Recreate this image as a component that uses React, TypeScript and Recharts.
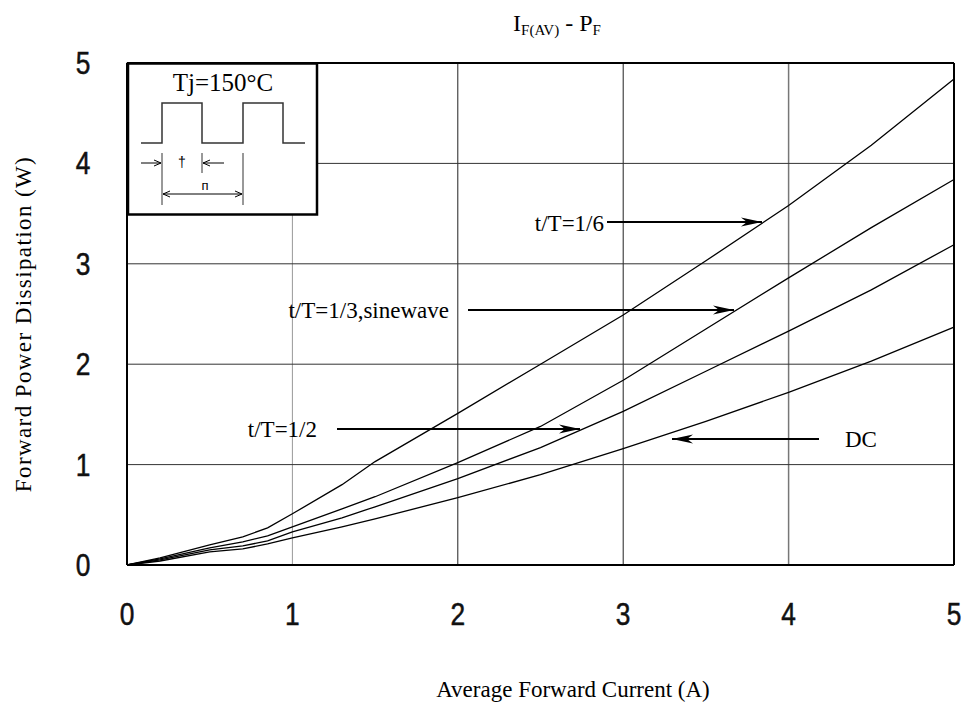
import React from "react";
import { LineChart, Line, XAxis, YAxis, ReferenceLine } from "recharts";

// Average forward current (A)
const currents = [0, 0.2, 0.5, 0.7, 0.85, 1.0, 1.3, 1.5, 2.0, 2.5, 3.0, 3.5, 4.0, 4.5, 5.0];
// Forward power dissipation (W) per waveform
const duty16 = [0, 0.07, 0.2, 0.28, 0.37, 0.51, 0.8, 1.03, 1.51, 2.0, 2.49, 3.03, 3.58, 4.18, 4.84];
const duty13 = [0, 0.06, 0.17, 0.23, 0.29, 0.38, 0.56, 0.68, 1.02, 1.38, 1.84, 2.35, 2.86, 3.36, 3.84];
const duty12 = [0, 0.05, 0.15, 0.19, 0.24, 0.33, 0.47, 0.58, 0.86, 1.17, 1.53, 1.93, 2.33, 2.74, 3.19];
const dcCurve = [0, 0.04, 0.13, 0.16, 0.21, 0.27, 0.38, 0.46, 0.67, 0.9, 1.16, 1.43, 1.72, 2.03, 2.37];

const xTicks = [0, 1, 2, 3, 4, 5];
const yTicks = [0, 1, 2, 3, 4, 5];

const data = currents.map((x, i) => ({
  x,
  d16: duty16[i],
  d13: duty13[i],
  d12: duty12[i],
  dc: dcCurve[i],
}));

const serif = "'Liberation Serif', 'Times New Roman', serif";
const sans = "'Liberation Sans', Arial, sans-serif";

const YTick = ({ x, y, payload }: any) => (
  <g transform={`translate(${x - 42},${y})`}>
    <text
      transform="scale(0.85,1)"
      textAnchor="middle"
      dy={11}
      fontSize={31}
      fontFamily={sans}
      fill="#111"
      stroke="#111"
      strokeWidth={0.5}
    >
      {payload.value}
    </text>
  </g>
);

const XTick = ({ x, y, payload }: any) => (
  <g transform={`translate(${x},${y})`}>
    <text
      transform="scale(0.85,1)"
      textAnchor="middle"
      dy={58}
      fontSize={31}
      fontFamily={sans}
      fill="#111"
      stroke="#111"
      strokeWidth={0.5}
    >
      {payload.value}
    </text>
  </g>
);

export default function App() {
  return (
    <div style={{ position: "absolute", left: 0, top: 0, width: 964, height: 711, background: "#fff" }}>
      <LineChart width={964} height={711} data={data} margin={{ top: 63, right: 10, bottom: 0, left: 0 }}>
        <XAxis
          dataKey="x"
          type="number"
          domain={[0, 5]}
          ticks={xTicks}
          height={146}
          tick={<XTick />}
          tickLine={false}
          tickSize={0}
          axisLine={{ stroke: "#000", strokeWidth: 2 }}
        />
        <YAxis
          type="number"
          domain={[0, 5]}
          ticks={yTicks}
          width={127}
          tick={<YTick />}
          tickLine={false}
          tickSize={0}
          axisLine={{ stroke: "#000", strokeWidth: 2 }}
        />
        {/* grid */}
        <ReferenceLine x={1} stroke="#999" strokeWidth={1} />
        <ReferenceLine x={2} stroke="#222" strokeWidth={1} />
        <ReferenceLine x={3} stroke="#222" strokeWidth={1} />
        <ReferenceLine x={4} stroke="#777" strokeWidth={1.5} />
        <ReferenceLine y={1} stroke="#333" strokeWidth={1} />
        <ReferenceLine y={2} stroke="#333" strokeWidth={1} />
        <ReferenceLine y={3} stroke="#333" strokeWidth={1} />
        <ReferenceLine y={4} stroke="#333" strokeWidth={1} />
        <ReferenceLine y={5} stroke="#000" strokeWidth={2} />
        <ReferenceLine x={5} stroke="#000" strokeWidth={2} />

        <Line type="linear" dataKey="d16" stroke="#000" strokeWidth={1.3} dot={false} isAnimationActive={false} />
        <Line type="linear" dataKey="d13" stroke="#000" strokeWidth={1.3} dot={false} isAnimationActive={false} />
        <Line type="linear" dataKey="d12" stroke="#000" strokeWidth={1.3} dot={false} isAnimationActive={false} />
        <Line type="linear" dataKey="dc" stroke="#000" strokeWidth={1.3} dot={false} isAnimationActive={false} />
      </LineChart>

      <svg
        width={964}
        height={711}
        style={{ position: "absolute", left: 0, top: 0, pointerEvents: "none" }}
      >
        <defs>
          <marker id="arr" markerUnits="userSpaceOnUse" markerWidth={22} markerHeight={10} refX={21} refY={5} orient="auto">
            <path d="M0,0.5 L21,5 L0,9.5 L6,5 Z" fill="#000" />
          </marker>
          <marker id="sm" markerUnits="userSpaceOnUse" markerWidth={8} markerHeight={8} refX={7} refY={4} orient="auto">
            <path d="M0,1 L7,4 L0,7" fill="none" stroke="#000" strokeWidth={1} />
          </marker>
          <marker id="smStart" markerUnits="userSpaceOnUse" markerWidth={8} markerHeight={8} refX={1} refY={4} orient="auto">
            <path d="M8,1 L1,4 L8,7" fill="none" stroke="#000" strokeWidth={1} />
          </marker>
        </defs>

        {/* title */}
        <text x={557} y={31} textAnchor="middle" fontFamily={serif} fontSize={24} fill="#000">
          I<tspan fontSize={15} dy={4}>F(AV)</tspan>
          <tspan dy={-4}> - P</tspan>
          <tspan fontSize={15} dy={4}>F</tspan>
        </text>

        {/* axis titles */}
        <text x={573} y={697} textAnchor="middle" fontFamily={serif} fontSize={23} fill="#000">
          Average Forward Current (A)
        </text>
        <text
          transform="translate(31,324) rotate(-90)"
          textAnchor="middle"
          fontFamily={serif}
          fontSize={23}
          letterSpacing={1.4}
          fill="#000"
        >
          Forward Power Dissipation (W)
        </text>

        {/* curve callouts */}
        <text x={604} y={231} textAnchor="end" fontFamily={serif} fontSize={23} fill="#000">t/T=1/6</text>
        <line x1={607} y1={222} x2={762} y2={222} stroke="#000" strokeWidth={2} markerEnd="url(#arr)" />

        <text x={449} y={318} textAnchor="end" fontFamily={serif} fontSize={23} fill="#000">t/T=1/3,sinewave</text>
        <line x1={468} y1={310} x2={734} y2={310} stroke="#000" strokeWidth={2} markerEnd="url(#arr)" />

        <text x={317} y={437} textAnchor="end" fontFamily={serif} fontSize={23} fill="#000">t/T=1/2</text>
        <line x1={337} y1={429} x2={580} y2={429} stroke="#000" strokeWidth={2} markerEnd="url(#arr)" />

        <text x={845} y={447} fontFamily={serif} fontSize={23} fill="#000">DC</text>
        <line x1={819} y1={439} x2={672} y2={439} stroke="#000" strokeWidth={2} markerEnd="url(#arr)" />

        {/* inset: pulse waveform */}
        <rect x={128} y={63.5} width={189} height={151} fill="#fff" stroke="#000" strokeWidth={2.5} />
        <text x={223} y={91} textAnchor="middle" fontFamily={serif} fontSize={25} fill="#000">Tj=150°C</text>
        <polyline
          points="141,143 162,143 162,103 202,103 202,143 243,143 243,103 283,103 283,143 305,143"
          fill="none"
          stroke="#333"
          strokeWidth={1.5}
        />
        <line x1={162} y1={153} x2={162} y2={205} stroke="#333" strokeWidth={1} />
        <line x1={202} y1={153} x2={202} y2={173} stroke="#333" strokeWidth={1} />
        <line x1={243} y1={153} x2={243} y2={205} stroke="#333" strokeWidth={1} />
        <line x1={141} y1={163} x2={161} y2={163} stroke="#000" strokeWidth={1} markerEnd="url(#sm)" />
        <line x1={224} y1={163} x2={203} y2={163} stroke="#000" strokeWidth={1} markerEnd="url(#sm)" />
        <line x1={163} y1={194} x2={242} y2={194} stroke="#000" strokeWidth={1} markerStart="url(#smStart)" markerEnd="url(#sm)" />
        <text x={182} y={167} textAnchor="middle" fontFamily={sans} fontSize={14} fill="#000">†</text>
        <text x={205} y={190} textAnchor="middle" fontFamily={sans} fontSize={13} fill="#000">п</text>
      </svg>
    </div>
  );
}
